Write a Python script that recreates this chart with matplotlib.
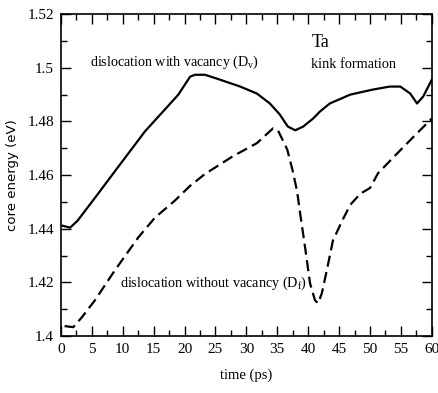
import matplotlib
matplotlib.use("Agg")
from matplotlib import pyplot as plt
from matplotlib.ticker import MultipleLocator

# solid curve: dislocation with vacancy
t_v = [0.3, 1.5, 2.7, 6.0, 8.4, 13.6, 16.8, 19.0, 20.9, 21.7, 23.3, 25.7, 29.0,
       31.7, 33.8, 35.4, 36.7, 37.9, 39.2, 40.8, 41.9, 43.5, 46.8, 50.5, 53.2,
       54.9, 56.5, 57.6, 58.6, 60.0]
e_v = [1.4411, 1.4404, 1.4430, 1.4530, 1.4604, 1.4763, 1.4844, 1.4900, 1.4967,
       1.4974, 1.4974, 1.4956, 1.4930, 1.4904, 1.4867, 1.4826, 1.4781, 1.4767,
       1.4781, 1.4811, 1.4837, 1.4867, 1.4900, 1.4919, 1.4930, 1.4930, 1.4904,
       1.4867, 1.4893, 1.4956]

# dashed curve: dislocation without vacancy
t_f = [0.6, 2.0, 3.4, 5.5, 8.7, 12.5, 15.2, 18.4, 20.9, 23.3, 27.8, 31.7, 34.3,
       35.1, 36.6, 37.5, 38.2, 38.7, 39.5, 40.3, 41.1, 41.6, 42.2, 43.0, 44.0,
       45.5, 46.8, 48.4, 50.0, 51.3, 54.4, 57.6, 60.0]
e_f = [1.4037, 1.4033, 1.4070, 1.4133, 1.4244, 1.4367, 1.4441, 1.4504, 1.4560,
       1.4604, 1.4670, 1.4719, 1.4774, 1.4767, 1.4696, 1.4615, 1.4540, 1.4456,
       1.4330, 1.4196, 1.4133, 1.4122, 1.4159, 1.4244, 1.4356, 1.4430, 1.4489,
       1.4530, 1.4552, 1.4607, 1.4681, 1.4756, 1.4811]

plt.rcParams['font.family'] = 'serif'
plt.rcParams['font.serif'] = ['Liberation Serif', 'DejaVu Serif']
plt.rcParams['mathtext.fontset'] = 'custom'
plt.rcParams['mathtext.rm'] = 'Liberation Serif'
plt.rcParams['xtick.direction'] = 'in'
plt.rcParams['ytick.direction'] = 'in'

fig = plt.figure(figsize=(4.38, 3.93), dpi=100)
ax = fig.add_axes([0.139, 0.145, 0.847, 0.819])

ax.plot(t_v, e_v, color='black', lw=1.6)
ax.plot(t_f, e_f, color='black', lw=1.6, dashes=(5, 2.5))

ax.set_xlim(0, 60)
ax.set_ylim(1.4, 1.52)
ax.xaxis.set_major_locator(MultipleLocator(5))
ax.xaxis.set_minor_locator(MultipleLocator(2.5))
ax.yaxis.set_minor_locator(MultipleLocator(0.01))
ax.set_yticks([1.4, 1.42, 1.44, 1.46, 1.48, 1.5, 1.52])
ax.set_yticklabels(['1.4', '1.42', '1.44', '1.46', '1.48', '1.5', '1.52'])
ax.tick_params(which='both', top=True, right=True, labelsize=11, width=1)
ax.tick_params(which='major', length=7, pad=5)
ax.tick_params(which='minor', length=4)
for s in ax.spines.values():
    s.set_linewidth(1.2)

ax.text(4.7, 1.5022, r'dislocation with vacancy (D$_\mathrm{v}$)', fontsize=10.1, va='center')
ax.text(40.5, 1.5093, 'Ta', fontsize=13, va='center')
ax.text(40.5, 1.5011, 'kink formation', fontsize=10.3, va='center')
ax.text(9.6, 1.4196, r'dislocation without vacancy (D$_\mathrm{f}$)', fontsize=10.2, va='center')

ax.set_xlabel('time (ps)', fontsize=10.5, labelpad=9)
ax.set_ylabel('core energy (eV)', fontsize=9.5, family='DejaVu Sans', labelpad=6)

fig.savefig('out.png', dpi=100)
